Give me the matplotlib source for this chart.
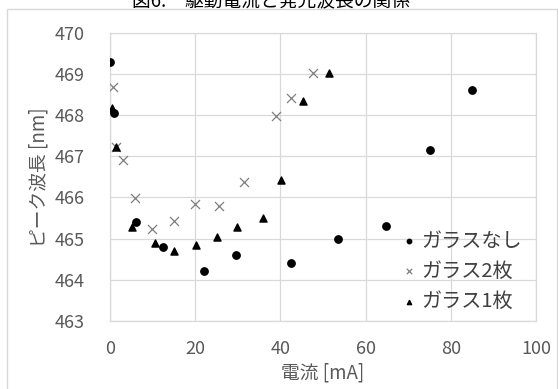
import matplotlib
matplotlib.use("Agg")
import matplotlib.pyplot as plt
from matplotlib.patches import Rectangle

plt.rcParams['font.family'] = ['Noto Sans CJK JP', 'DejaVu Sans']

# ガラスなし
x_none = [0.0, 0.9, 6.0, 12.5, 22.1, 29.6, 42.6, 53.6, 64.8, 75.1, 85.0]
y_none = [469.28, 468.05, 465.41, 464.80, 464.22, 464.60, 464.42, 465.00, 465.30, 467.16, 468.61]

# ガラス2枚
x_two = [0.6, 1.4, 3.1, 5.9, 9.8, 15.0, 20.0, 25.5, 31.5, 38.9, 42.5, 47.6]
y_two = [468.68, 467.22, 466.92, 465.99, 465.24, 465.44, 465.85, 465.80, 466.37, 467.97, 468.41, 469.03]

# ガラス1枚
x_one = [0.5, 1.4, 5.2, 10.6, 15.1, 20.2, 25.2, 29.9, 35.8, 40.1, 45.4, 51.3]
y_one = [468.17, 467.22, 465.29, 464.90, 464.71, 464.84, 465.05, 465.29, 465.49, 466.42, 468.35, 469.02]

title = "図6.　駆動電流と発光波長の関係"
xlabel = "電流 [mA]"
ylabel = "ピーク波長 [nm]"

fig = plt.figure(figsize=(5.58, 3.89), dpi=100)
ax = fig.add_axes([110/558, 1 - 321/389, 426/558, 288.3/389])

# chart area border
fig.patches.append(Rectangle((7/558, -0.05), 550/558, 1.05 - 9/389,
                             transform=fig.transFigure, fill=False,
                             edgecolor="#d9d9d9", linewidth=1.0))
fig.text(0.485, 1 - 12/389, title, ha="center", va="bottom", fontsize=13.5)

ax.scatter(x_none, y_none, marker="o", s=28, color="black", label="ガラスなし", zorder=3)
ax.scatter(x_two, y_two, marker="x", s=42, color="#7f7f7f", linewidths=0.9, label="ガラス2枚", zorder=3)
ax.scatter(x_one, y_one, marker="^", s=26, color="black", label="ガラス1枚", zorder=3)

ax.set_xlim(0, 100)
ax.set_ylim(463, 470)
ax.set_xticks(range(0, 101, 20))
ax.set_yticks(range(463, 471))
ax.grid(True, color="#d9d9d9", linewidth=0.9)
ax.set_axisbelow(True)
for s in ax.spines.values():
    s.set_color("#d9d9d9")
    s.set_linewidth(0.9)
ax.tick_params(length=0, labelsize=13, labelcolor="#595959")
ax.tick_params(axis="y", pad=18)
ax.tick_params(axis="x", pad=14)

ax.set_xlabel(xlabel, fontsize=13.5, color="#595959", labelpad=3)
ax.set_ylabel(ylabel, fontsize=13.5, color="#595959", labelpad=4)

leg = ax.legend(loc="lower right", bbox_to_anchor=(0.995, -0.01), frameon=False,
                fontsize=14.5, markerscale=0.6, handletextpad=0.1,
                labelspacing=0.45, borderpad=0.1, handlelength=1.0)
for t in leg.get_texts():
    t.set_color("#404040")

fig.savefig("out.png", dpi=100)
